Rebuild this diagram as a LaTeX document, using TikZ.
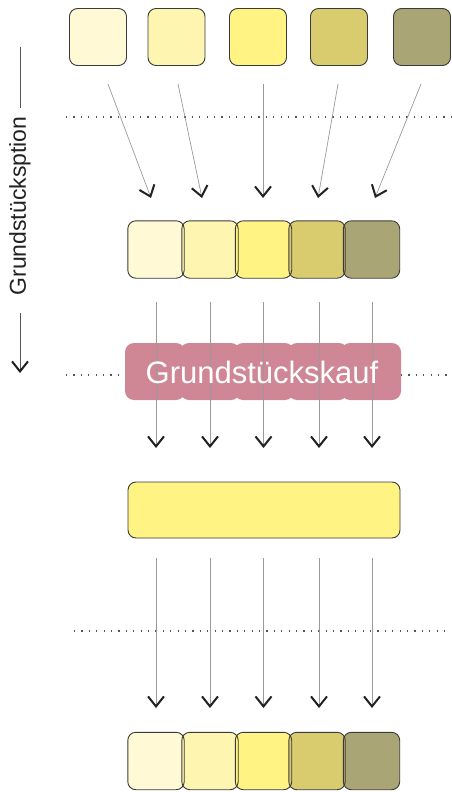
\documentclass[tikz,border=0pt]{standalone}
\usepackage{fontspec}
\setmainfont{Liberation Sans}
\usetikzlibrary{arrows.meta}

\definecolor{shadeA}{HTML}{FFF9D6}
\definecolor{shadeB}{HTML}{FEF5B0}
\definecolor{shadeC}{HTML}{FFF383}
\definecolor{shadeD}{HTML}{D9CC6F}
\definecolor{shadeE}{HTML}{A9A574}
\definecolor{tileline}{HTML}{3A3A3A}
\definecolor{rose}{HTML}{CF8795}
\definecolor{shaft}{HTML}{9A9A9A}
\definecolor{dotc}{HTML}{555555}
\definecolor{tipc}{HTML}{222222}

\tikzset{
  tile/.style={rounded corners=8pt, minimum width=57pt, minimum height=57pt, inner sep=0pt},
  tileborder/.style={draw=tileline, line width=0.9pt, rounded corners=8pt},
  pinktile/.style={fill=rose, rounded corners=9pt, minimum width=60pt, minimum height=57pt, inner sep=0pt},
  flow/.style={draw=shaft, line width=0.7pt, -{Straight Barb[length=10pt,width=16pt,line width=2pt,color=tipc]}},
  sep/.style={draw=dotc, line width=1.2pt, dash pattern=on 1.1pt off 6.3pt},
}

\begin{document}
\begin{tikzpicture}[x=1pt,y=-1pt]
\useasboundingbox (0,0) rectangle (451,792);

% top row of shades
\foreach \n/\x/\c in {1/98/shadeA,2/176.5/shadeB,3/258/shadeC,4/339/shadeD,5/422/shadeE}{
  \node[tile, fill=\c, draw=tileline, line width=0.9pt] (t\n) at (\x,37) {};
}

% separator lines
\draw[sep] (66,117) -- (451,117);
\draw[sep] (66,375) -- (124,375);
\draw[sep] (401,375) -- (451,375);
\draw[sep] (74,631) -- (451,631);

% converging arrows from the top row
\foreach \n/\xa/\xb in {1/108/151,2/178/202,3/263/263,4/338/318,5/421/375}{
  \coordinate (s\n) at (\xa,84);
  \coordinate (f\n) at (\xb,198);
  \draw[flow] (s\n) -- (f\n);
}

% second row, packed side by side
\foreach \n/\x/\c in {1/156/shadeA,2/210/shadeB,3/263.5/shadeC,4/317/shadeD,5/371.5/shadeE}{
  \node[tile, fill=\c, minimum width=56pt] (m\n) at (\x,249.5) {};
}
\foreach \n in {1,...,5}{
  \draw[tileborder] (m\n.north west) rectangle (m\n.south east);
}

% purchase block
\foreach \n/\x in {1/155,2/210,3/264,4/318,5/371}{
  \node[pinktile] (p\n) at (\x,371.5) {};
}

% arrows through the purchase block
\foreach \n/\x in {1/156,2/210,3/263.5,4/319,5/372}{
  \coordinate (u\n) at (\x,302);
  \coordinate (v\n) at (\x,448);
  \draw[flow] (u\n) -- (v\n);
}
\node[text=white, font=\fontsize{31}{34}\selectfont, inner sep=0pt] (kauf) at (262,372) {Grundstückskauf};

% merged parcel
\node[tile, fill=shadeC, draw=tileline, line width=0.9pt, minimum width=272pt, minimum height=56pt] (big) at (264,510) {};

% arrows to the bottom row
\foreach \n/\x in {1/156,2/210,3/263.5,4/319,5/372}{
  \coordinate (g\n) at (\x,558);
  \coordinate (h\n) at (\x,708);
  \draw[flow] (g\n) -- (h\n);
}

% bottom row
\foreach \n/\x/\c in {1/156/shadeA,2/210/shadeB,3/263.5/shadeC,4/317/shadeD,5/371.5/shadeE}{
  \node[tile, fill=\c, minimum width=56pt] (e\n) at (\x,761) {};
}
\foreach \n in {1,...,5}{
  \draw[tileborder] (e\n.north west) rectangle (e\n.south east);
}

% time axis on the left
\node[rotate=90, font=\fontsize{23}{26}\selectfont, inner sep=0pt, text=tipc] (axis) at (20,206) {Grundstücksption};
\coordinate (a0) at (20,47);
\coordinate (a1) at (20,108);
\coordinate (a2) at (20,313);
\coordinate (a3) at (20,373);
\draw[draw=dotc, line width=0.7pt] (a0) -- (a1);
\draw[flow, draw=dotc] (a2) -- (a3);
\end{tikzpicture}
\end{document}
